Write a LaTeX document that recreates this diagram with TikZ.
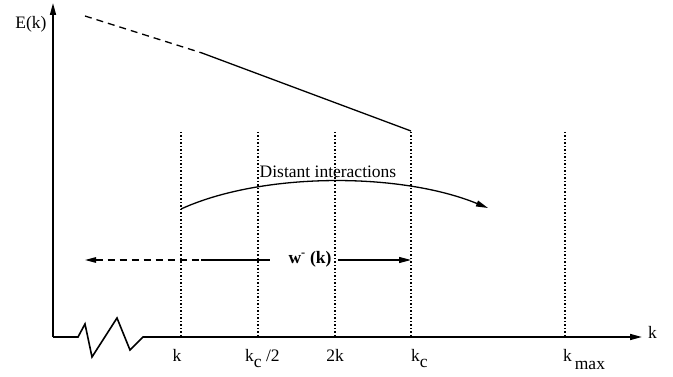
\documentclass[tikz,border=0pt]{standalone}
\usepackage{fontspec}
\setmainfont{Liberation Serif}
\usetikzlibrary{arrows.meta}
\begin{document}
\begin{tikzpicture}[x=1pt,y=-1pt,
  lbl/.style={inner sep=0pt, font=\fontsize{17.5}{20}\selectfont},
  axis/.style={line width=1.6pt},
  grid/.style={line width=1.4pt, dash pattern=on 1.4pt off 2.1pt},
  curve/.style={line width=1.3pt},
  tip/.style={-{Triangle[length=12pt,width=6pt]}},
  tipl/.style={{Triangle[length=11pt,width=5.5pt]}-}]
\useasboundingbox (0,0) rectangle (673,377);
% axes
\coordinate (o) at (53,337);
\coordinate (ytop) at (53,3);
\coordinate (z0) at (78,337);
\coordinate (z1) at (85,324);
\coordinate (z2) at (92,357);
\coordinate (z3) at (117,318);
\coordinate (z4) at (130,350);
\coordinate (z5) at (143,337);
\coordinate (xend) at (642,337);
\draw[axis, tip] (o) -- (ytop);
\draw[axis, tip, line join=miter] (o) -- (z0) -- (z1) -- (z2) -- (z3) -- (z4) -- (z5) -- (xend);
\node[lbl] (ylab) at (31,24) {E(k)};
\node[lbl, anchor=west] (xlab) at (648,332) {k};
% vertical dotted lines
\foreach \n/\x in {vk/181, vkh/258, v2k/335, vkc/411, vmax/565} {
  \coordinate (\n top) at (\x,132);
  \coordinate (\n bot) at (\x,337);
  \draw[grid] (\n top) -- (\n bot);
}
% tick labels
\node[lbl, anchor=base] (lk) at (177,361) {k};
\node[lbl, anchor=base west] (lkh) at (245,361) {k\raisebox{-6pt}{c} /2};
\node[lbl, anchor=base] (l2k) at (335,361) {2k};
\node[lbl, anchor=base west] (lkc) at (411,361) {k\raisebox{-6pt}{c}};
\node[lbl, anchor=base west] (lmax) at (563,361) {k\,\raisebox{-8pt}{max}};
% spectrum line
\coordinate (e0) at (85,16);
\coordinate (e1) at (202,53);
\coordinate (e2) at (411,131);
\draw[curve, dashed, dash pattern=on 7pt off 5pt] (e0) -- (e1);
\draw[curve] (e1) -- (e2);
% distant interactions
\coordinate (d0) at (181,209);
\coordinate (d1) at (488,208);
\draw[curve, tip] (d0) .. controls (262,172) and (400,172) .. (d1);
\node[lbl] (dlab) at (328,172) {Distant interactions};
% w arrow
\coordinate (wl) at (85,260);
\coordinate (wm) at (201,260);
\coordinate (wr) at (411,260);
\node[lbl] (wlab) at (310,259) {\textbf{w\textsuperscript{-} (k)}};
\draw[curve, tipl, dashed, dash pattern=on 7pt off 5pt] (wl) -- (wm);
\draw[curve] (wm) -- (270,260);
\draw[curve, tip] (338,260) -- (wr);
\end{tikzpicture}
\end{document}
